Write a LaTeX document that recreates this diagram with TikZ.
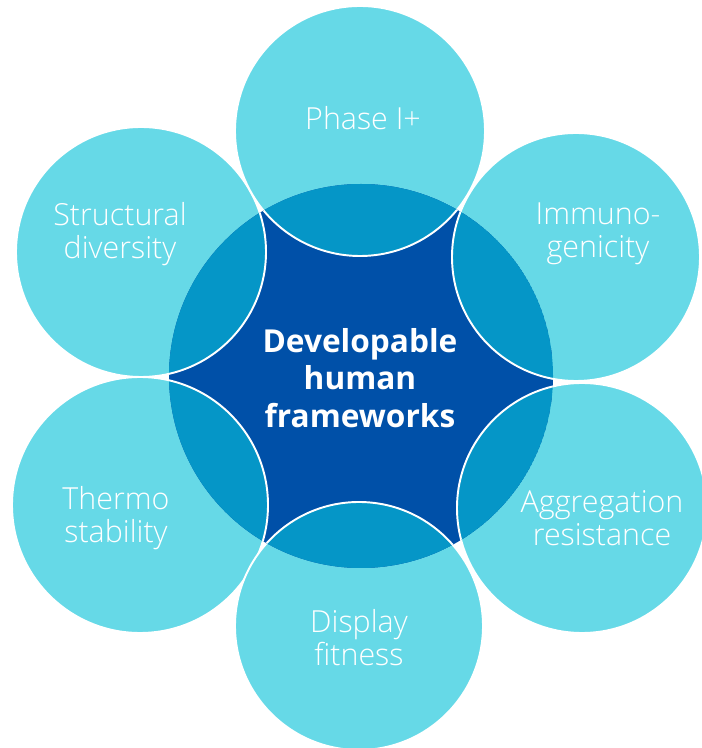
\documentclass[tikz,border=0pt]{standalone}
\usepackage{fontspec}
\setmainfont{Open Sans}
\newfontfamily\petalfont{Open Sans Light}
\usepackage{tikz}
\usetikzlibrary{calc}
\definecolor{petalcyan}{HTML}{66D9E7}
\definecolor{hubmid}{HTML}{0596C7}
\definecolor{hubdark}{HTML}{0050A8}
\tikzset{petal/.style={fill=petalcyan,draw=white,line width=1.1pt}}
\tikzset{petaltext/.style={text=white,align=center,inner sep=0pt,font=\petalfont\fontsize{17.3}{18.8}\selectfont}}
\tikzset{hubtext/.style={text=white,align=center,inner sep=0pt,font=\bfseries\fontsize{18}{21.5}\selectfont}}
\newcommand{\petals}{struct/141/496/125, phase/360/617/125, immuno/576/491/124, aggr/582/240/125, thermo/140/243/128, display/359/122/124}

\begin{document}
\begin{tikzpicture}[x=0.02cm,y=0.02cm]
\useasboundingbox (0,0) rectangle (702,748);

\coordinate (hub) at (361,372);
\foreach \n/\x/\y/\r in \petals
 {
 \coordinate (\n) at (\x,\y);
 \draw[petal] (\n) circle (\r);
 }

\begin{scope}
 \clip (hub) circle (192);
 \fill[hubdark] (hub) circle (192);
 \foreach \n/\x/\y/\r in \petals
  \draw[petal,fill=hubmid] (\n) circle (\r);
\end{scope}

\node[petaltext] (phaselbl) at (363,630) {Phase I+};
\node[petaltext] (structlbl) at (120,514) {Structural\\diversity};
\node[petaltext] (immunolbl) at (598,514) {Immuno-\\genicity};
\node[petaltext] (thermolbl) at (116,230) {Thermo\\stability};
\node[petaltext] (aggrlbl) at (602,230) {Aggregation\\resistance};
\node[petaltext] (displaylbl) at (359,110) {Display\\fitness};
\node[hubtext] (hublbl) at (360,370) {Developable\\human\\frameworks};

\end{tikzpicture}
\end{document}
